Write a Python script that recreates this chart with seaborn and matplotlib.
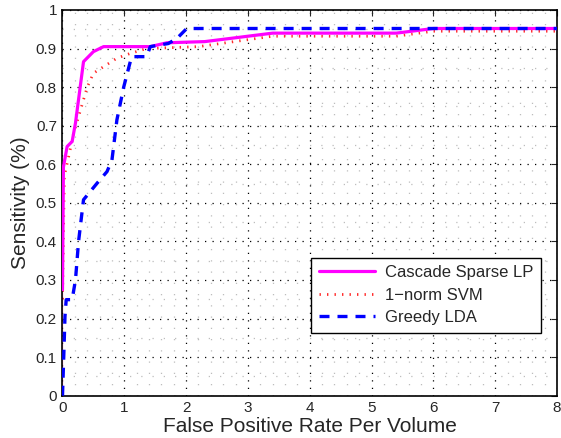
import matplotlib
matplotlib.use("Agg")
import matplotlib.pyplot as plt
import seaborn as sns
import numpy as np
from matplotlib.ticker import MultipleLocator

# ROC-like curves
lp_x = [0, 0.0, 0.015, 0.075, 0.156, 0.21, 0.34, 0.50, 0.665, 1.42, 1.69, 2.3, 3.4, 5.4, 6.0, 8.0]
lp_y = [0, 0.55, 0.593, 0.646, 0.659, 0.707, 0.866, 0.892, 0.905, 0.905, 0.915, 0.918, 0.940, 0.940, 0.952, 0.952]

svm_x = [0, 0.0, 0.03, 0.10, 0.18, 0.29, 0.40, 0.50, 0.665, 0.88, 1.09, 1.36, 2.2, 3.4, 5.4, 6.0, 8.0]
svm_y = [0, 0.50, 0.57, 0.62, 0.68, 0.74, 0.80, 0.836, 0.853, 0.875, 0.887, 0.90, 0.905, 0.932, 0.932, 0.945, 0.945]

lda_x = [0, 0.02, 0.04, 0.06, 0.156, 0.21, 0.26, 0.34, 0.56, 0.72, 0.80, 0.88, 0.99, 1.09, 1.12, 1.36, 1.42, 1.71, 1.85, 2.01, 8.0]
lda_y = [0, 0.10, 0.205, 0.249, 0.249, 0.30, 0.40, 0.508, 0.551, 0.581, 0.611, 0.715, 0.80, 0.862, 0.879, 0.879, 0.905, 0.913, 0.926, 0.952, 0.952]

sns.set_style("white")
plt.rcParams["font.family"] = ["Liberation Sans", "DejaVu Sans"]

fig = plt.figure(figsize=(5.61, 4.38), dpi=100)
ax = fig.add_axes([0.1114, 0.0966, 0.8815, 0.8806])

sns.lineplot(x=lp_x, y=lp_y, sort=False, ax=ax, color="#ff00ff", lw=2.3,
             label="Cascade Sparse LP", zorder=3)
sns.lineplot(x=svm_x, y=svm_y, sort=False, ax=ax, color="#ff2a2a", lw=2.0,
             linestyle=(0, (0.5, 2.2)), label="1\u2212norm SVM", zorder=2)
sns.lineplot(x=lda_x, y=lda_y, sort=False, ax=ax, color="#0000ff", lw=2.4,
             linestyle=(0, (3.0, 2.4)), label="Greedy LDA", zorder=4)

ax.set_xlim(0, 8)
ax.set_ylim(0, 1)
ax.xaxis.set_minor_locator(MultipleLocator(0.2))
ax.yaxis.set_minor_locator(MultipleLocator(0.05))
ax.set_xticks(np.arange(0, 9, 1))
ax.set_xticklabels([str(i) for i in range(9)])
ax.set_yticks(np.round(np.arange(0, 1.01, 0.1), 1))
ax.set_yticklabels(["0"] + ["%.1f" % v for v in np.arange(0.1, 0.95, 0.1)] + ["1"])

ax.grid(which="major", color="black", linestyle=(0, (1, 5)), lw=0.9)
ax.grid(which="minor", color="#bdbdbd", linestyle=(0, (1, 8)), lw=0.9)
ax.tick_params(which="both", direction="in", top=True, right=True, labelsize=11)
ax.tick_params(which="major", length=4, pad=4)
ax.tick_params(which="minor", length=0)
for s in ax.spines.values():
    s.set_color("black")
    s.set_linewidth(1.2)

ax.set_xlabel("False Positive Rate Per Volume", fontsize=15, labelpad=1)
ax.set_ylabel("Sensitivity (%)", fontsize=15, labelpad=4)

leg = ax.legend(loc="lower right", bbox_to_anchor=(0.968, 0.163), borderaxespad=0,
                fontsize=12, frameon=True, fancybox=False, edgecolor="black",
                framealpha=1, handlelength=3.4, handletextpad=0.6,
                borderpad=0.45, labelspacing=0.45)
leg.get_frame().set_linewidth(1.0)

fig.savefig("out.png", dpi=100)
plt.close(fig)
